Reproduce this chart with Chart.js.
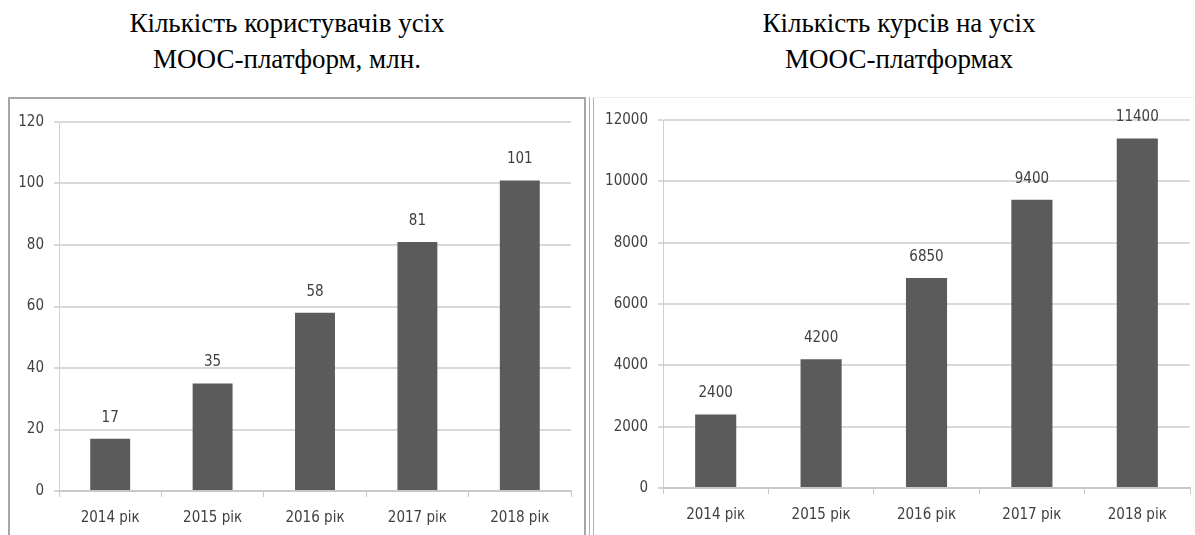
<!DOCTYPE html>
<html><head><meta charset="utf-8">
<script src="https://cdn.jsdelivr.net/npm/chart.js@4.4.1/dist/chart.umd.min.js"></script>
<style>
html,body{margin:0;padding:0;background:#fff;width:1195px;height:535px;overflow:hidden;position:relative;}
.title{position:absolute;font-family:"Liberation Serif","Times New Roman",serif;font-size:27px;line-height:36px;color:#000;text-align:center;white-space:nowrap;}
#t1{left:87px;width:400px;top:5px;}
#t2{left:699px;width:400px;top:5px;}
#f1{position:absolute;left:8px;top:97px;width:578px;height:450px;border:2px solid #a6a6a6;box-sizing:border-box;}
#f2a{position:absolute;left:589px;top:97px;width:1px;height:440px;background:#b0b0b0;}
#f2b{position:absolute;left:593px;top:97px;width:1px;height:440px;background:#b0b0b0;}
#f2t{position:absolute;left:593px;top:97px;width:602px;height:1px;background:#ececec;}
#w1{position:absolute;left:10px;top:98px;width:574px;height:437px;}
#w2{position:absolute;left:596px;top:98px;width:599px;height:437px;}
</style></head>
<body>
<div class="title" id="t1"><div>Кількість користувачів усіх</div><div>МООС-платформ, млн.</div></div>
<div class="title" id="t2"><div>Кількість курсів на усіх</div><div>МООС-платформах</div></div>
<div id="f1"></div><div id="f2a"></div><div id="f2b"></div><div id="f2t"></div>
<div id="w1"><canvas id="c1"></canvas></div>
<div id="w2"><canvas id="c2"></canvas></div>
<script>
const categories = ["2014 рік","2015 рік","2016 рік","2017 рік","2018 рік"];
const usersMln = [17, 35, 58, 81, 101];
const courses = [2400, 4200, 6850, 9400, 11400];
const usersTicks = {min:0, max:120, step:20};
const coursesTicks = {min:0, max:12000, step:2000};

const FONT = "'DejaVu Sans Condensed','DejaVu Sans',sans-serif";

const valueLabels = {
  id:'valueLabels',
  afterDatasetsDraw(chart){
    const ctx = chart.ctx;
    const meta = chart.getDatasetMeta(0);
    const data = chart.data.datasets[0].data;
    ctx.save();
    ctx.font = "15px " + FONT;
    ctx.fillStyle = "#404040";
    ctx.textAlign = "center";
    ctx.textBaseline = "middle";
    meta.data.forEach((el,i)=>{
      ctx.fillText(String(data[i]), el.x, el.y - 21);
    });
    ctx.restore();
  }
};

function makeChart(id, values, tk, yWidth, xHeight, padTop, padRight){
  return new Chart(document.getElementById(id), {
    type:'bar',
    data:{labels:categories, datasets:[{data:values, backgroundColor:'#5b5b5b', borderWidth:0, barPercentage:0.78, categoryPercentage:0.5}]},
    plugins:[valueLabels],
    options:{
      responsive:true, maintainAspectRatio:false, animation:false,
      layout:{padding:{top:padTop, right:padRight, left:0, bottom:0}},
      plugins:{legend:{display:false}, tooltip:{enabled:false}},
      scales:{
        x:{
          grid:{display:true, drawOnChartArea:false, drawTicks:true, tickLength:6, color:'#c8c8c8', lineWidth:1, offset:true},
          border:{display:true, color:'#c8c8c8', width:2},
          ticks:{font:{size:15, family:FONT}, color:'#404040', padding:12, maxRotation:0},
          afterFit(s){ s.height = xHeight; }
        },
        y:{
          min:tk.min, max:tk.max,
          grid:{color:'#d9d9d9', lineWidth:2, tickLength:5, drawTicks:true},
          border:{display:true, color:'#d0d0d0', width:1},
          ticks:{stepSize:tk.step, font:{size:15, family:FONT}, color:'#404040', padding:10, callback:(v)=>String(v)},
          afterFit(s){ s.width = yWidth; }
        }
      }
    }
  });
}
makeChart('c1', usersMln, usersTicks, 49, 44, 24, 13);
makeChart('c2', courses, coursesTicks, 67, 47, 22, 5);
</script>
</body></html>
